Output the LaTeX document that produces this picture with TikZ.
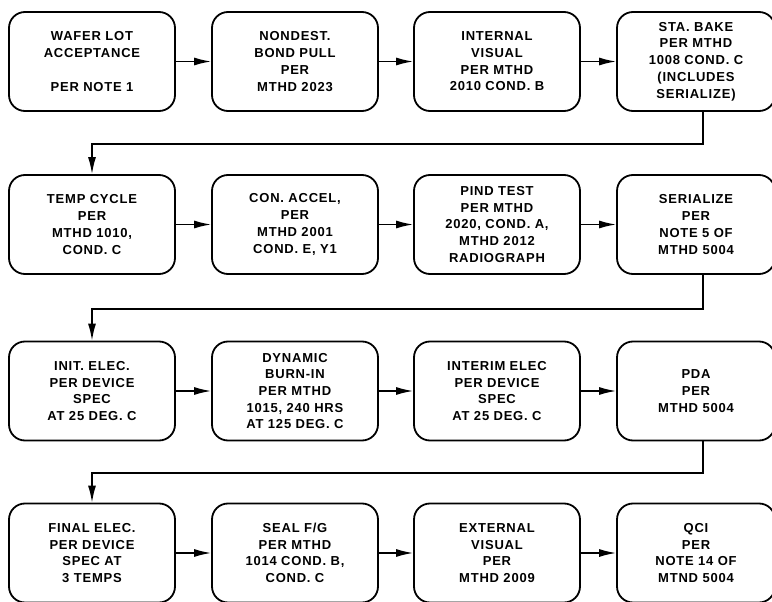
\documentclass[tikz,border=0pt]{standalone}
\usepackage{fontspec}
\newfontfamily\boxfont{Liberation Sans}[LetterSpace=6]
\usetikzlibrary{arrows.meta}

\begin{document}
\begin{tikzpicture}[x=1pt,y=1pt,
  stepbox/.style={draw, line width=1.8pt, rounded corners=16pt, minimum width=166pt,
    minimum height=99pt, align=center, inner sep=2pt,
    font=\boxfont\bfseries\fontsize{13}{16.7}\selectfont},
  flow/.style={line width=1.5pt, -{Latex[length=17pt,width=8pt]}}]
\useasboundingbox (0,0) rectangle (772,-602);
\node[stepbox] (wafer) at (92,-61.5) {WAFER LOT\\ACCEPTANCE\\\mbox{}\\PER NOTE 1};
\node[stepbox] (bondpull) at (295,-61.5) {NONDEST.\\BOND PULL\\PER\\MTHD 2023};
\node[stepbox] (intvis) at (497,-61.5) {INTERNAL\\VISUAL\\PER MTHD\\2010 COND. B};
\node[stepbox, minimum width=158pt] (stabake) at (696,-61.5) {STA. BAKE\\PER MTHD\\1008 COND. C\\(INCLUDES\\SERIALIZE)};
\node[stepbox] (tempcyc) at (92,-224.5) {TEMP CYCLE\\PER\\MTHD 1010,\\COND. C};
\node[stepbox] (conaccel) at (295,-224.5) {CON. ACCEL,\\PER\\MTHD 2001\\COND. E, Y1};
\node[stepbox] (pind) at (497,-224.5) {PIND TEST\\PER MTHD\\2020, COND. A,\\MTHD 2012\\RADIOGRAPH};
\node[stepbox, minimum width=158pt] (serial) at (696,-224.5) {SERIALIZE\\PER\\NOTE 5 OF\\MTHD 5004};
\node[stepbox] (initelec) at (92,-391) {INIT. ELEC.\\PER DEVICE\\SPEC\\AT 25 DEG. C};
\node[stepbox] (burnin) at (295,-391) {DYNAMIC\\BURN-IN\\PER MTHD\\1015, 240 HRS\\AT 125 DEG. C};
\node[stepbox] (interim) at (497,-391) {INTERIM ELEC\\PER DEVICE\\SPEC\\AT 25 DEG. C};
\node[stepbox, minimum width=158pt] (pda) at (696,-391) {PDA\\PER\\MTHD 5004};
\node[stepbox] (finalelec) at (92,-553) {FINAL ELEC.\\PER DEVICE\\SPEC AT\\3 TEMPS};
\node[stepbox] (seal) at (295,-553) {SEAL F/G\\PER MTHD\\1014 COND. B,\\COND. C};
\node[stepbox] (extvis) at (497,-553) {EXTERNAL\\VISUAL\\PER\\MTHD 2009};
\node[stepbox, minimum width=158pt] (qci) at (696,-553) {QCI\\PER\\NOTE 14 OF\\MTND 5004};
\draw[flow] (wafer.east) -- (bondpull.west);
\draw[flow] (bondpull.east) -- (intvis.west);
\draw[flow] (intvis.east) -- (stabake.west);
\draw[flow] ([xshift=7pt]stabake.south) -- ++(0,-32) -| (tempcyc.north);
\draw[flow] (tempcyc.east) -- (conaccel.west);
\draw[flow] (conaccel.east) -- (pind.west);
\draw[flow] (pind.east) -- (serial.west);
\draw[flow] ([xshift=7pt]serial.south) -- ++(0,-34) -| (initelec.north);
\draw[flow] (initelec.east) -- (burnin.west);
\draw[flow] (burnin.east) -- (interim.west);
\draw[flow] (interim.east) -- (pda.west);
\draw[flow] ([xshift=7pt]pda.south) -- ++(0,-31.5) -| (finalelec.north);
\draw[flow] (finalelec.east) -- (seal.west);
\draw[flow] (seal.east) -- (extvis.west);
\draw[flow] (extvis.east) -- (qci.west);
\end{tikzpicture}
\end{document}
